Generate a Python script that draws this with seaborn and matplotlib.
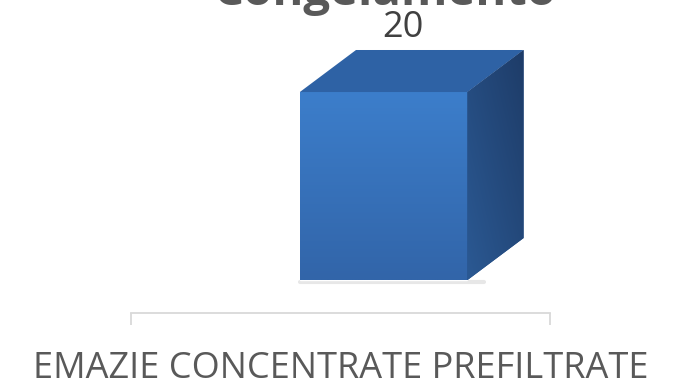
import numpy as np
import pandas as pd
import matplotlib
matplotlib.use("Agg")
import matplotlib.pyplot as plt
import seaborn as sns
from matplotlib.patches import Polygon
from matplotlib.colors import LinearSegmentedColormap

# data
categories = ["EMAZIE CONCENTRATE PREFILTRATE"]
values = [20]
title = "Congelamento"

sns.set_theme(style="white")
plt.rcParams['font.family'] = ['Open Sans', 'DejaVu Sans']

fig = plt.figure(figsize=(6.83, 3.82), dpi=100)
ax = fig.add_axes([131 / 683, (382 - 313) / 382, 419 / 683, (313 - 20) / 382])

df = pd.DataFrame({"cat": categories, "val": values})
sns.barplot(data=df, x="cat", y="val", ax=ax, color="#3A78C2",
            width=0.40, saturation=1, zorder=3)
ax.set_xlim(-0.5, 0.5)
ax.set_ylim(-3.5, 27.66)

# 3d look: shift bar a bit to the right and add top + side faces
shift = 0.103
dx, dy = 0.134, 4.47
front_cmap = LinearSegmentedColormap.from_list("front", ["#3C7ECB", "#3265A9"])
side_cmap = LinearSegmentedColormap.from_list("side", ["#2B5993", "#1E3C68"])

for bar in ax.patches:
    bar.set_x(bar.get_x() + shift)
    x0, w, h = bar.get_x(), bar.get_width(), bar.get_height()

    grad = np.linspace(0, 1, 100).reshape(-1, 1)
    im = ax.imshow(grad, cmap=front_cmap, aspect="auto", origin="upper",
                   extent=(x0, x0 + w, 0, h), zorder=4)
    im.set_clip_path(bar)

    top = Polygon([(x0, h), (x0 + w, h), (x0 + w + dx, h + dy), (x0 + dx, h + dy)],
                  closed=True, facecolor="#2E62A5", edgecolor="none", zorder=4)
    ax.add_patch(top)

    side = Polygon([(x0 + w, 0), (x0 + w + dx, dy), (x0 + w + dx, h + dy), (x0 + w, h)],
                   closed=True, facecolor="#26508A", edgecolor="none", zorder=4)
    ax.add_patch(side)
    gx = np.linspace(0, 1, 100).reshape(1, -1)
    shade = np.tile(gx, (100, 1)) * 0.5 + np.linspace(0.5, 0, 100).reshape(-1, 1)
    im2 = ax.imshow(shade, cmap=side_cmap, aspect="auto", origin="upper",
                    extent=(x0 + w, x0 + w + dx, 0, h + dy), zorder=4)
    im2.set_clip_path(side)

    # soft shadow under the front face
    ax.plot([x0, x0 + w + dx * 0.3], [-0.2, -0.2], color="#BBBBBB",
            lw=3, alpha=0.35, solid_capstyle="round", zorder=2)

    ax.annotate(f"{h:g}", xy=(x0 + w / 2 + dx * 0.35, h + dy), xytext=(0, 9.5),
                textcoords="offset points", ha="center", va="baseline",
                fontsize=26, color="#404040")

# axis styling
for s in ["top", "left", "right"]:
    ax.spines[s].set_visible(False)
ax.spines["bottom"].set_color("#D9D9D9")
ax.spines["bottom"].set_linewidth(1.3)
ax.set_yticks([])
ax.set_xticks([0])
ax.set_xticklabels(categories, fontsize=26, color="#595959")
ax.set_xticks([-0.5, 0.5], minor=True)
ax.tick_params(axis="x", which="major", length=0, pad=27)
ax.tick_params(axis="x", which="minor", bottom=True, length=8.6, width=1.3,
               color="#D9D9D9", direction="out")
ax.set_xlabel("")
ax.set_ylabel("")

fig.text(385 / 683, 1 - 5 / 382, title, ha="center", va="baseline",
         fontsize=34, fontweight="bold", color="#595959")

fig.savefig("out.png", dpi=100)
